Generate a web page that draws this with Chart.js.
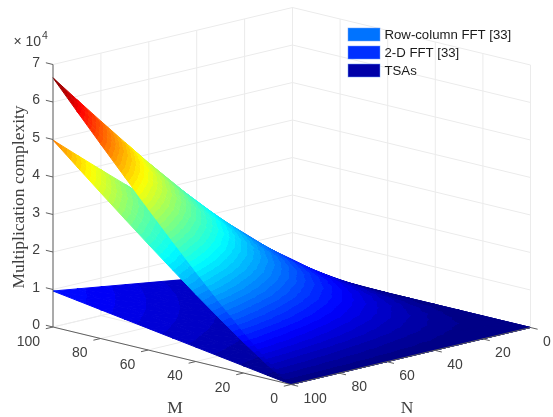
<!DOCTYPE html>
<html>
<head>
<meta charset="utf-8">
<style>
  html, body { margin: 0; padding: 0; background: #fff; }
  canvas { display: block; }
</style>
<script src="https://cdn.jsdelivr.net/npm/chart.js@4"></script>
</head>
<body>
<canvas id="surfaceChart" width="553" height="417"></canvas>
<script>
/* values
----------------------------------------*/
var mValues = [0, 10, 20, 30, 40, 50, 60, 70, 80, 90, 100];
var nValues = [0, 10, 20, 30, 40, 50, 60, 70, 80, 90, 100];
var mTicks = [0, 20, 40, 60, 80, 100];
var nTicks = [0, 20, 40, 60, 80, 100];
var zTicks = [0, 1, 2, 3, 4, 5, 6, 7];
var seriesNames = ['Row-column FFT [33]', '2-D FFT [33]', 'TSAs'];
var legendColors = ['#0073ff', '#0030ff', '#0000a8'];

// rows are M, columns are N
var rowColumnFft = [
  [0, 0, 0, 0, 0, 0, 0, 0, 0, 0, 0],
  [0, 330, 760, 1230, 1730, 2240, 2770, 3310, 3860, 4420, 4980],
  [0, 760, 1730, 2770, 3860, 4980, 6140, 7320, 8520, 9730, 10970],
  [0, 1230, 2770, 4420, 6140, 7910, 9730, 11590, 13480, 15390, 17330],
  [0, 1730, 3860, 6140, 8520, 10970, 13480, 16030, 18630, 21270, 23930],
  [0, 2240, 4980, 7910, 10970, 14110, 17330, 20600, 23930, 27310, 30720],
  [0, 2770, 6140, 9730, 13480, 17330, 21270, 25280, 29350, 33480, 37650],
  [0, 3310, 7320, 11590, 16030, 20600, 25280, 30040, 34860, 39760, 44710],
  [0, 3860, 8520, 13480, 18630, 23930, 29350, 34860, 40460, 46130, 51860],
  [0, 4420, 9730, 15390, 21270, 27310, 33480, 39760, 46130, 52590, 59110],
  [0, 4980, 10970, 17330, 23930, 30720, 37650, 44710, 51860, 59110, 66440]
];
var twoDFft = [
  [0, 0, 0, 0, 0, 0, 0, 0, 0, 0, 0],
  [0, 250, 570, 920, 1300, 1680, 2080, 2480, 2900, 3320, 3740],
  [0, 570, 1300, 2080, 2900, 3740, 4610, 5490, 6390, 7300, 8230],
  [0, 920, 2080, 3320, 4610, 5930, 7300, 8690, 10110, 11540, 13000],
  [0, 1300, 2900, 4610, 6390, 8230, 10110, 12020, 13970, 15950, 17950],
  [0, 1680, 3740, 5930, 8230, 10580, 13000, 15450, 17950, 20480, 23040],
  [0, 2080, 4610, 7300, 10110, 13000, 15950, 18960, 22010, 25110, 28240],
  [0, 2480, 5490, 8690, 12020, 15450, 18960, 22530, 26150, 29820, 33530],
  [0, 2900, 6390, 10110, 13970, 17950, 22010, 26150, 30350, 34600, 38900],
  [0, 3320, 7300, 11540, 15950, 20480, 25110, 29820, 34600, 39440, 44330],
  [0, 3740, 8230, 13000, 17950, 23040, 28240, 33530, 38900, 44330, 49830]
];
var tsas = [
  [0, 0, 0, 0, 0, 0, 0, 0, 0, 0, 0],
  [0, 96, 192, 288, 384, 480, 576, 672, 768, 864, 960],
  [0, 192, 384, 576, 768, 960, 1152, 1344, 1536, 1728, 1920],
  [0, 288, 576, 864, 1152, 1440, 1728, 2016, 2304, 2592, 2880],
  [0, 384, 768, 1152, 1536, 1920, 2304, 2688, 3072, 3456, 3840],
  [0, 480, 960, 1440, 1920, 2400, 2880, 3360, 3840, 4320, 4800],
  [0, 576, 1152, 1728, 2304, 2880, 3456, 4032, 4608, 5184, 5760],
  [0, 672, 1344, 2016, 2688, 3360, 4032, 4704, 5376, 6048, 6720],
  [0, 768, 1536, 2304, 3072, 3840, 4608, 5376, 6144, 6912, 7680],
  [0, 864, 1728, 2592, 3456, 4320, 5184, 6048, 6912, 7776, 8640],
  [0, 960, 1920, 2880, 3840, 4800, 5760, 6720, 7680, 8640, 9600]
];

var colorMax = 66440;
var colorLevels = 64;
var gridColor = '#ebebeb';
var axisColor = '#606060';
var textColor = '#404040';

/* 3-D view: M=0,N=100 is the front corner
----------------------------------------*/
function project(m, n, z) {
  return {
    x: 291 - 2.38 * m + 2.395 * (100 - n),
    y: 384.5 - 0.575 * m - 0.57 * (100 - n) - z * 37.5 / 10000
  };
}

/* jet colormap, 64 flat steps
----------------------------------------*/
function jetColor(level) {
  var v = (level + 0.5) / colorLevels;
  var clamp = function(a) { return Math.round(255 * Math.max(0, Math.min(1, a))); };
  var r = clamp(Math.min(4 * v - 1.5, -4 * v + 4.5));
  var g = clamp(Math.min(4 * v - 0.5, -4 * v + 3.5));
  var b = clamp(Math.min(4 * v + 0.5, -4 * v + 2.5));
  return 'rgb(' + r + ',' + g + ',' + b + ')';
}

function levelOf(z) {
  return Math.max(0, Math.min(colorLevels - 1, Math.floor(z / colorMax * colorLevels)));
}

// linear gradient over one triangle, banded like the colormap
function triangleFill(chart, tri) {
  if (tri.fillStyle) return tri.fillStyle;
  var sx = chart.scales.x, sy = chart.scales.y;
  var p = tri.corners.map(function(c) {
    return { x: sx.getPixelForValue(c.x), y: sy.getPixelForValue(c.y), z: c.z };
  });
  // scales are not laid out yet on the first pass
  if (!isFinite(p[0].x) || !isFinite(p[0].y)) return 'rgba(0,0,0,0)';
  var ax = p[1].x - p[0].x, ay = p[1].y - p[0].y, az = p[1].z - p[0].z;
  var bx = p[2].x - p[0].x, by = p[2].y - p[0].y, bz = p[2].z - p[0].z;
  var det = ax * by - ay * bx;
  var sorted = p.slice().sort(function(u, v) { return u.z - v.z; });
  var lo = sorted[0], hi = sorted[2];
  if (Math.abs(det) < 1e-6 || levelOf(lo.z) === levelOf(hi.z)) {
    tri.fillStyle = jetColor(levelOf((lo.z + hi.z) / 2));
    return tri.fillStyle;
  }
  var gx = (az * by - bz * ay) / det;
  var gy = (ax * bz - bx * az) / det;
  var len2 = gx * gx + gy * gy;
  var span = hi.z - lo.z;
  var grad = chart.ctx.createLinearGradient(lo.x, lo.y, lo.x + gx * span / len2, lo.y + gy * span / len2);
  for (var l = levelOf(lo.z); l <= levelOf(hi.z); l++) {
    var c = jetColor(l);
    var t0 = Math.max(0, (l / colorLevels * colorMax - lo.z) / span);
    var t1 = Math.min(1, ((l + 1) / colorLevels * colorMax - lo.z) / span);
    grad.addColorStop(t0, c);
    grad.addColorStop(t1, c);
  }
  tri.fillStyle = grad;
  return grad;
}

/* datasets
----------------------------------------*/
function lineSet(points, color, width) {
  return { data: points, showLine: true, fill: false, borderColor: color, borderWidth: width, pointRadius: 0 };
}

function triangleSet(a, b, c) {
  var tri = {
    corners: [a, b, c].map(function(q) {
      var pt = project(q[0], q[1], q[2]);
      return { x: pt.x, y: pt.y, z: q[2] };
    })
  };
  var style = function(ctx) { return triangleFill(ctx.chart, tri); };
  return {
    data: [tri.corners[0], tri.corners[1], tri.corners[2], tri.corners[0]].map(function(c) { return { x: c.x, y: c.y }; }),
    showLine: true,
    fill: 'shape',
    backgroundColor: style,
    borderColor: style,
    borderWidth: 1,
    pointRadius: 0
  };
}

var gridSets = [];
zTicks.forEach(function(z) {
  gridSets.push(lineSet([project(100, 100, z * 1e4), project(100, 0, z * 1e4), project(0, 0, z * 1e4)], gridColor, 1));
});
nTicks.forEach(function(n) {
  gridSets.push(lineSet([project(0, n, 0), project(100, n, 0), project(100, n, 7e4)], gridColor, 1));
});
mTicks.forEach(function(m) {
  gridSets.push(lineSet([project(m, 100, 0), project(m, 0, 0), project(m, 0, 7e4)], gridColor, 1));
});

// painter's order: low surface first, far cells first
var surfaceSets = [];
[tsas, twoDFft, rowColumnFft].forEach(function(table) {
  for (var i = mValues.length - 1; i > 0; i--) {
    for (var j = 0; j < nValues.length - 1; j++) {
      var hh = [mValues[i], nValues[j], table[i][j]];
      var hk = [mValues[i], nValues[j + 1], table[i][j + 1]];
      var kh = [mValues[i - 1], nValues[j], table[i - 1][j]];
      var kk = [mValues[i - 1], nValues[j + 1], table[i - 1][j + 1]];
      surfaceSets.push(triangleSet(hh, hk, kh));
      surfaceSets.push(triangleSet(hk, kk, kh));
    }
  }
});

var axisSets = [
  lineSet([project(100, 100, 0), project(100, 100, 7e4)], axisColor, 1),
  lineSet([project(0, 100, 0), project(100, 100, 0)], axisColor, 1),
  lineSet([project(0, 100, 0), project(0, 0, 0)], axisColor, 1)
];
mTicks.forEach(function(m) { axisSets.push(lineSet([project(m, 100, 0), project(m, 103, 0)], axisColor, 1)); });
nTicks.forEach(function(n) { axisSets.push(lineSet([project(0, n, 0), project(-3, n, 0)], axisColor, 1)); });
zTicks.forEach(function(z) { axisSets.push(lineSet([project(100, 100, z * 1e4), project(103, 100, z * 1e4)], axisColor, 1)); });

// chart.js paints the first dataset last
var allSets = axisSets.concat(surfaceSets.slice().reverse(), gridSets);

/* text and legend
----------------------------------------*/
var labelsPlugin = {
  id: 'labelsPlugin',
  afterDraw: function(chart) {
    var ctx = chart.ctx, sx = chart.scales.x, sy = chart.scales.y;
    var at = function(pt) { return { x: sx.getPixelForValue(pt.x), y: sy.getPixelForValue(pt.y) }; };
    ctx.save();
    ctx.fillStyle = textColor;
    ctx.textBaseline = 'middle';
    ctx.font = '14px "Liberation Sans"';

    ctx.textAlign = 'right';
    mTicks.forEach(function(m) {
      var p = at(project(m, 100, 0));
      ctx.fillText(String(m), p.x - 13, p.y + 15);
    });
    zTicks.forEach(function(z) {
      var p = at(project(100, 100, z * 1e4));
      ctx.fillText(String(z), p.x - 13, p.y - 1.5);
    });
    ctx.textAlign = 'left';
    nTicks.forEach(function(n) {
      var p = at(project(0, n, 0));
      ctx.fillText(String(n), p.x + 12.5, p.y + 14.5);
    });

    ctx.fillText('\u00d7', 13.5, 42);
    ctx.fillText('10', 25.5, 42);
    ctx.font = '10.5px "Liberation Sans"';
    ctx.fillText('4', 42, 36);

    ctx.font = '17.5px "Liberation Serif"';
    ctx.textAlign = 'center';
    ctx.fillText('M', 175, 408);
    ctx.fillText('N', 407, 408);
    ctx.save();
    ctx.translate(19, 197);
    ctx.rotate(-Math.PI / 2);
    ctx.fillText('Multiplication complexity', 0, 0);
    ctx.restore();

    ctx.textAlign = 'left';
    ctx.font = '13.2px "Liberation Sans"';
    seriesNames.forEach(function(name, k) {
      var top = 28 + k * 18;
      ctx.fillStyle = legendColors[k];
      ctx.fillRect(348, top, 32, 13);
      ctx.strokeStyle = 'rgba(110,160,255,0.7)';
      ctx.lineWidth = 0.7;
      ctx.strokeRect(348, top, 32, 13);
      ctx.fillStyle = '#1a1a1a';
      ctx.fillText(name, 384.5, top + 7);
    });
    ctx.restore();
  }
};

var chart = new Chart(document.getElementById('surfaceChart'), {
  type: 'scatter',
  data: { datasets: allSets },
  options: {
    responsive: false,
    animation: false,
    events: [],
    layout: { padding: 0 },
    elements: { line: { tension: 0 } },
    plugins: { legend: { display: false }, tooltip: { enabled: false } },
    scales: {
      x: { type: 'linear', min: 0, max: 553, display: false },
      y: { type: 'linear', min: 0, max: 417, reverse: true, display: false }
    }
  },
  plugins: [labelsPlugin]
});
</script>
</body>
</html>
